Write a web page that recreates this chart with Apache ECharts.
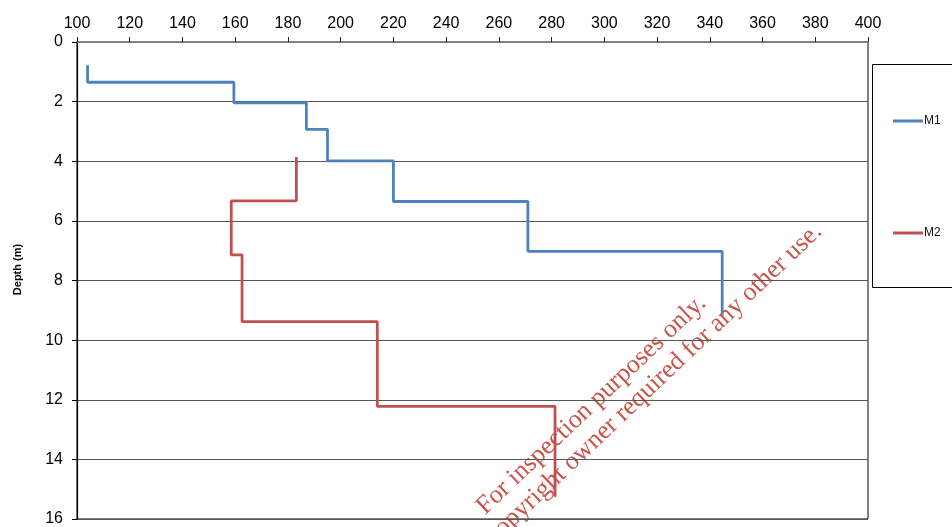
<!DOCTYPE html>
<html>
<head>
<meta charset="utf-8">
<script src="https://cdn.jsdelivr.net/npm/echarts@6/dist/echarts.min.js"></script>
<style>html,body{margin:0;padding:0;background:#fff;}#c{width:952px;height:527px;}</style>
</head>
<body>
<div id="c"></div>
<script>
// Data (value on top axis, depth in m on inverted left axis)
const seriesNames = ['M1', 'M2'];
const m1Value = [104, 104, 159.5, 159.5, 187, 187, 195, 195, 220, 220, 271, 271, 344.7, 344.7];
const m1Depth = [0.78, 1.35, 1.35, 2.04, 2.04, 2.93, 2.93, 3.99, 3.99, 5.35, 5.35, 7.02, 7.02, 9.18];
const m2Value = [183.2, 183.2, 158.5, 158.5, 162.6, 162.6, 213.9, 213.9, 281.3, 281.3];
const m2Depth = [3.86, 5.33, 5.33, 7.14, 7.14, 9.38, 9.38, 12.22, 12.22, 15.25];
const xMin = 100, xMax = 400, xStep = 20;
const yMin = 0, yMax = 16, yStep = 2;
const yAxisTitle = 'Depth (m)';
const watermark1 = 'For inspection purposes only.';
const watermark2 = 'Consent of copyright owner required for any other use.';

const zip = (a, b) => a.map((v, i) => [v, b[i]]);
const chart = echarts.init(document.getElementById('c'), null, {renderer: 'canvas'});
const font = '"Liberation Sans", Arial, sans-serif';
const wmFont = '26px "Liberation Serif", "Times New Roman", serif';
chart.setOption({
  animation: false,
  backgroundColor: '#fff',
  grid: {left: 77, right: 84, top: 42, bottom: 7, show: true, borderColor: '#000', borderWidth: 1, containLabel: false},
  xAxis: {
    type: 'value', position: 'top', min: xMin, max: xMax, interval: xStep,
    axisLine: {show: true, lineStyle: {color: '#888', width: 1.5}},
    axisTick: {show: true, inside: false, length: 5, lineStyle: {color: '#222'}},
    axisLabel: {color: '#000', fontSize: 16, fontFamily: font, margin: 10},
    splitLine: {show: false}
  },
  yAxis: {
    type: 'value', inverse: true, min: yMin, max: yMax, interval: yStep,
    name: yAxisTitle, nameLocation: 'middle', nameRotate: 90, nameGap: 54,
    nameTextStyle: {fontSize: 11, fontWeight: 'bold', fontFamily: font, color: '#000', padding: [0, 0, 0, 22]},
    axisLine: {show: true, lineStyle: {color: '#000', width: 1.2}},
    axisTick: {show: true, length: 5, lineStyle: {color: '#000'}},
    axisLabel: {color: '#000', fontSize: 16, fontFamily: font, margin: 14},
    splitLine: {show: true, lineStyle: {color: '#555', width: 1.2}}
  },
  legend: [
    {data: [seriesNames[0]], left: 888, top: 110, icon: 'rect', itemWidth: 30, itemHeight: 3, itemGap: 0,
     textStyle: {fontSize: 12, fontFamily: font, color: '#111', padding: [0, 0, 0, -4]}},
    {data: [seriesNames[1]], left: 888, top: 222, icon: 'rect', itemWidth: 30, itemHeight: 3, itemGap: 0,
     textStyle: {fontSize: 12, fontFamily: font, color: '#111', padding: [0, 0, 0, -4]}}
  ],
  graphic: [
    {type: 'rect', shape: {x: 872.5, y: 64.5, width: 100, height: 223}, style: {fill: 'none', stroke: '#000', lineWidth: 1}, z: 0},
    {type: 'group', x: 601, y: 415, rotation: 0.76, z: 100, children: [
      {type: 'text', x: 0, y: -14, style: {text: watermark1, fill: 'rgba(195,65,55,0.9)', font: wmFont, textAlign: 'center', textVerticalAlign: 'middle'}},
      {type: 'text', x: 0, y: 14, style: {text: watermark2, fill: 'rgba(195,65,55,0.9)', font: wmFont, textAlign: 'center', textVerticalAlign: 'middle'}}
    ]}
  ],
  series: [
    {name: seriesNames[0], type: 'line', data: zip(m1Value, m1Depth), showSymbol: false, symbol: 'none',
     lineStyle: {color: '#4F81BD', width: 2.8}, itemStyle: {color: '#4F81BD'}},
    {name: seriesNames[1], type: 'line', data: zip(m2Value, m2Depth), showSymbol: false, symbol: 'none',
     lineStyle: {color: '#C0504D', width: 2.8}, itemStyle: {color: '#C0504D'}}
  ]
});
</script>
</body>
</html>
